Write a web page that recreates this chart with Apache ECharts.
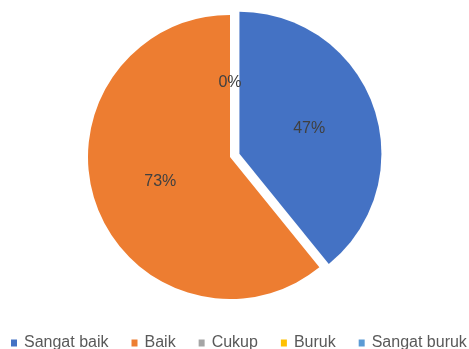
<!DOCTYPE html>
<html>
<head>
<meta charset="utf-8">
<script src="https://cdn.jsdelivr.net/npm/echarts@6/dist/echarts.min.js"></script>
<style>html,body{margin:0;padding:0;background:#fff}#c{width:469px;height:349px}</style>
</head>
<body>
<div id="c"></div>
<script>
var categories = ["Sangat baik", "Baik", "Cukup", "Buruk", "Sangat buruk"];
var values = [47, 73, 0, 0, 0];
var colors = ["#4472C4", "#ED7D31", "#A5A5A5", "#FFC000", "#5B9BD5"];
var exploded = [true, false, false, false, false];

var chart = echarts.init(document.getElementById('c'), null, {renderer: 'canvas'});
var data = categories.map(function (n, i) {
  return {name: n, value: values[i], selected: exploded[i], itemStyle: {color: colors[i]}};
});
chart.setOption({
  animation: false,
  backgroundColor: '#fff',
  legend: {
    data: categories,
    top: 335,
    left: 11,
    padding: [0, 0, 0, 0],
    icon: 'rect',
    itemWidth: 6,
    itemHeight: 7,
    itemGap: 23,
    textStyle: {color: '#595959', fontSize: 16, fontFamily: 'Liberation Sans', padding: [0, 0, 0, 2]},
    selectedMode: false
  },
  series: [{
    type: 'pie',
    center: [230, 157],
    radius: 142,
    startAngle: 90,
    clockwise: true,
    selectedMode: 'multiple',
    selectedOffset: 10,
    avoidLabelOverlap: false,
    label: {
      show: true,
      position: 'inside',
      formatter: '{c}%',
      color: '#404040',
      fontSize: 16,
      fontFamily: 'Liberation Sans'
    },
    labelLine: {show: false},
    labelLayout: {hideOverlap: true},
    emphasis: {disabled: true},
    select: {itemStyle: {}},
    itemStyle: {borderWidth: 0},
    data: data
  }]
});
</script>
</body>
</html>
